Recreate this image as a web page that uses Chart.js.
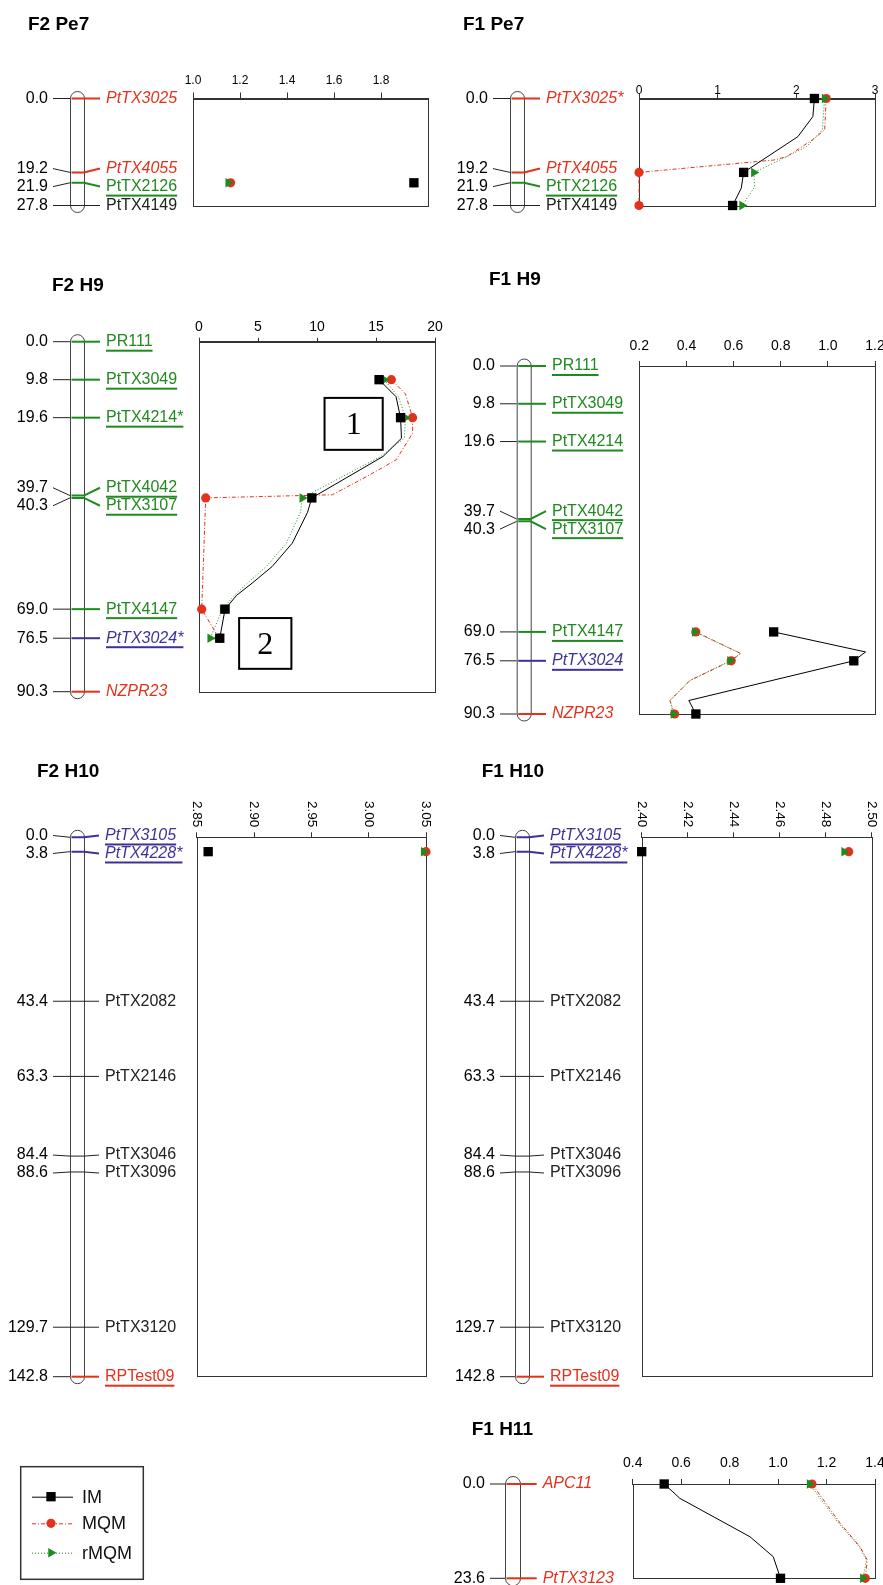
<!DOCTYPE html>
<html>
<head>
<meta charset="utf-8">
<script src="https://cdn.jsdelivr.net/npm/chart.js@4.4.1/dist/chart.umd.min.js"></script>
<style>
  body { margin: 0; background: #fff; }
  #page { position: relative; width: 883px; height: 1585px; overflow: hidden; }
  canvas { position: absolute; }
</style>
</head>
<body>
<div id="page"></div>
<script>
// ---------- linkage groups (cM positions, marker names, marker type) ----------
const cmPe7 = [0.0, 19.2, 21.9, 27.8];
const namesF2Pe7 = ['PtTX3025', 'PtTX4055', 'PtTX2126', 'PtTX4149'];
const namesF1Pe7 = ['PtTX3025*', 'PtTX4055', 'PtTX2126', 'PtTX4149'];
const kindPe7 = ['ri', 'ri', 'gu', 'k'];

const cmH9 = [0.0, 9.8, 19.6, 39.7, 40.3, 69.0, 76.5, 90.3];
const namesF2H9 = ['PR111', 'PtTX3049', 'PtTX4214*', 'PtTX4042', 'PtTX3107', 'PtTX4147', 'PtTX3024*', 'NZPR23'];
const namesF1H9 = ['PR111', 'PtTX3049', 'PtTX4214', 'PtTX4042', 'PtTX3107', 'PtTX4147', 'PtTX3024', 'NZPR23'];
const kindH9 = ['gu', 'gu', 'gu', 'gu', 'gu', 'gu', 'bu', 'ri'];

const cmH10 = [0.0, 3.8, 43.4, 63.3, 84.4, 88.6, 129.7, 142.8];
const namesH10 = ['PtTX3105', 'PtTX4228*', 'PtTX2082', 'PtTX2146', 'PtTX3046', 'PtTX3096', 'PtTX3120', 'RPTest09'];
const kindH10 = ['bu', 'bu', 'k', 'k', 'k', 'k', 'k', 'ru'];

const cmH11 = [0.0, 23.6];
const namesH11 = ['APC11', 'PtTX3123'];
const kindH11 = ['ri', 'ri'];

// ---------- LOD profiles, [cM, LOD] ----------
const imF2Pe7 = [[21.9, 1.94]];
const mqmF2Pe7 = [[21.9, 1.16]];
const rmqmF2Pe7 = [[21.9, 1.15]];

const imF1Pe7 = [[0, 2.23], [4.7, 2.21], [9.9, 2.02], [19.2, 1.33], [23.3, 1.30], [27.8, 1.19]];
const mqmF1Pe7 = [[0, 2.38], [8.2, 2.36], [10.8, 2.2], [15.1, 1.88], [16.0, 1.71], [19.2, 0], [27.8, 0]];
const rmqmF1Pe7 = [[0, 2.36], [8.2, 2.33], [12.5, 2.13], [16.8, 1.71], [19.2, 1.46], [23.0, 1.47], [27.8, 1.31]];

const imF2H9 = [[9.8, 15.26], [14.2, 16.7], [19.6, 17.08], [24.9, 17.16], [29.6, 15.6], [40.3, 9.56],
  [44.0, 9.2], [52.0, 7.9], [58.0, 6.2], [62.3, 4.5], [65.4, 3.2], [69.0, 2.21], [76.5, 1.76]];
const mqmF2H9 = [[9.8, 16.3], [13.5, 17.5], [19.6, 18.1], [23.6, 18.1], [30.5, 16.7], [34.8, 14.2],
  [39.5, 11.3], [40.3, 0.57], [69.0, 0.23], [76.5, 1.7]];
const rmqmF2H9 = [[9.8, 15.7], [14.2, 16.9], [19.6, 17.5], [24.9, 17.4], [29.6, 15.4], [40.3, 8.75],
  [44.0, 8.6], [52.0, 7.4], [58.0, 5.7], [62.3, 4.1], [65.4, 3.0], [69.0, 2.0], [76.5, 0.95]];

const imF1H9 = [[69.0, 0.77], [74.2, 1.16], [76.5, 1.11], [86.8, 0.41], [90.3, 0.44]];
const mqmF1H9 = [[69.0, 0.44], [74.6, 0.63], [76.5, 0.59], [81.6, 0.415], [86.8, 0.33], [90.3, 0.35]];
const rmqmF1H9 = [[69.0, 0.435], [74.6, 0.63], [76.5, 0.585], [81.6, 0.415], [86.8, 0.33], [90.3, 0.345]];

const imF2H10 = [[3.8, 2.86]];
const mqmF2H10 = [[3.8, 3.05]];
const rmqmF2H10 = [[3.8, 3.048]];

const imF1H10 = [[3.8, 2.40]];
const mqmF1H10 = [[3.8, 2.49]];
const rmqmF1H10 = [[3.8, 2.488]];

const imF1H11 = [[0, 0.53], [3.6, 0.595], [13.2, 0.884], [18.2, 0.98], [23.6, 1.01]];
const mqmF1H11 = [[0, 1.14], [9.8, 1.256], [15.7, 1.338], [19.0, 1.368], [23.6, 1.36]];
const rmqmF1H11 = [[0, 1.13], [9.8, 1.25], [15.7, 1.335], [19.0, 1.365], [23.6, 1.35]];

// ---------- LOD axis ticks ----------
const ticksF2Pe7 = [1.0, 1.2, 1.4, 1.6, 1.8];
const ticksF1Pe7 = [0, 1, 2, 3];
const ticksF2H9 = [0, 5, 10, 15, 20];
const ticksF1H9 = [0.2, 0.4, 0.6, 0.8, 1.0, 1.2];
const ticksF2H10 = [2.85, 2.90, 2.95, 3.00, 3.05];
const ticksF1H10 = [2.40, 2.42, 2.44, 2.46, 2.48, 2.50];
const ticksF1H11 = [0.4, 0.6, 0.8, 1.0, 1.2, 1.4];

// ---------- styles ----------
const FONT = '"Liberation Sans", Arial, Helvetica, sans-serif';
const RED = '#e3311c';
const GREEN = '#1f8a1f';
const BLUE = '#3b329b';
const INK = '#222';
Chart.defaults.font.family = FONT;

const KIND = {
  ri: { color: RED, italic: true, underline: false },
  ru: { color: RED, italic: false, underline: true },
  gu: { color: GREEN, italic: false, underline: true },
  bu: { color: BLUE, italic: true, underline: true },
  k:  { color: INK, italic: false, underline: false, thin: true }
};

const SERIES = [
  { key: 'im', label: 'IM', color: '#000', dash: [], shape: 'rect', r: 6.6, rot: 0, order: 0 },
  { key: 'mqm', label: 'MQM', color: RED, dash: [4, 2, 1, 2], shape: 'circle', r: 4.6, rot: 0, order: 2 },
  { key: 'rmqm', label: 'rMQM', color: GREEN, dash: [1, 2], shape: 'triangle', r: 5.5, rot: 90, order: 1 }
];

const panels = [
  { title: 'F2 Pe7', left: 0, top: 0, w: 460, h: 225, area: [193, 98.5, 428, 205.5], titleXY: [28, 29.5],
    map: { cmRight: 48, chromL: 70, chromW: 14, labelX: 106 },
    cm: cmPe7, names: namesF2Pe7, kinds: kindPe7, xMin: 1.0, xMax: 2.0, ticks: ticksF2Pe7, dec: 1,
    tickFont: 12, tl: 6, pad: 5, im: imF2Pe7, mqm: mqmF2Pe7, rmqm: rmqmF2Pe7 },
  { title: 'F1 Pe7', left: 440, top: 0, w: 443, h: 225, area: [199, 98.5, 435, 205.5], titleXY: [23, 29.5],
    map: { cmRight: 48, chromL: 70, chromW: 14, labelX: 106 },
    cm: cmPe7, names: namesF1Pe7, kinds: kindPe7, xMin: 0, xMax: 3, ticks: ticksF1Pe7, dec: 0,
    tickFont: 12, tl: 5, pad: -4, im: imF1Pe7, mqm: mqmF1Pe7, rmqm: rmqmF1Pe7 },
  { title: 'F2 H9', left: 0, top: 260, w: 460, h: 445, area: [199, 81.7, 435, 431.7], titleXY: [52, 30.7],
    map: { cmRight: 48, chromL: 70, chromW: 14, labelX: 106 },
    cm: cmH9, names: namesF2H9, kinds: kindH9, xMin: 0, xMax: 20, ticks: ticksF2H9, dec: 0,
    tickFont: 14, tl: 4, pad: 2.5, im: imF2H9, mqm: mqmF2H9, rmqm: rmqmF2H9,
    notes: [{ x0: 10.64, x1: 15.57, y0: 14.5, y1: 27.9, text: '1' }, { x0: 3.4, x1: 7.83, y0: 71.3, y1: 84.4, text: '2' }] },
  { title: 'F1 H9', left: 440, top: 260, w: 443, h: 465, area: [199.3, 106, 435, 454], titleXY: [49, 25],
    map: { cmRight: 55, chromL: 76.7, chromW: 14, labelX: 112 },
    cm: cmH9, names: namesF1H9, kinds: kindH9, xMin: 0.2, xMax: 1.2, ticks: ticksF1H9, dec: 1,
    tickFont: 14, tl: 5, pad: 6.5, im: imF1H9, mqm: mqmF1H9, rmqm: rmqmF1H9 },
  { title: 'F2 H10', left: 0, top: 750, w: 460, h: 640, area: [196.7, 87.3, 426, 626.7], titleXY: [37, 27.3],
    map: { cmRight: 48, chromL: 70, chromW: 14, labelX: 105 },
    cm: cmH10, names: namesH10, kinds: kindH10, xMin: 2.85, xMax: 3.05, ticks: ticksF2H10, dec: 2,
    tickFont: 13.5, tl: 5, pad: 0, rotTicks: true, im: imF2H10, mqm: mqmF2H10, rmqm: rmqmF2H10 },
  { title: 'F1 H10', left: 440, top: 750, w: 443, h: 640, area: [201.7, 87.3, 431.7, 626.7], titleXY: [41.7, 27.3],
    map: { cmRight: 55, chromL: 75, chromW: 14, labelX: 110 },
    cm: cmH10, names: namesH10, kinds: kindH10, xMin: 2.40, xMax: 2.50, ticks: ticksF1H10, dec: 2,
    tickFont: 13.5, tl: 5, pad: 0, rotTicks: true, im: imF1H10, mqm: mqmF1H10, rmqm: rmqmF1H10 },
  { title: 'F1 H11', left: 440, top: 1390, w: 443, h: 195, area: [192.7, 94, 435, 188.3], titleXY: [31.7, 45],
    map: { cmRight: 45, chromL: 65, chromW: 15, labelX: 102.7 },
    cm: cmH11, names: namesH11, kinds: kindH11, xMin: 0.4, xMax: 1.4, ticks: ticksF1H11, dec: 1,
    tickFont: 14, tl: 5, pad: 7.5, im: imF1H11, mqm: mqmF1H11, rmqm: rmqmF1H11 }
];

const page = document.getElementById('page');

// push map labels apart so they keep a minimum gap
function spread(ys, gap) {
  let groups = ys.map(v => ({ ys: [v], c: v }));
  let merged = true;
  while (merged) {
    merged = false;
    for (let i = 0; i < groups.length - 1; i++) {
      const a = groups[i], b = groups[i + 1];
      const aEnd = a.c + (a.ys.length - 1) * gap / 2;
      const bStart = b.c - (b.ys.length - 1) * gap / 2;
      if (bStart - aEnd < gap) {
        const all = a.ys.concat(b.ys);
        groups.splice(i, 2, { ys: all, c: all.reduce((s, v) => s + v, 0) / all.length });
        merged = true;
        break;
      }
    }
  }
  const out = [];
  groups.forEach(g => g.ys.forEach((v, k) => out.push(g.c + (k - (g.ys.length - 1) / 2) * gap)));
  return out;
}

function drawMap(ctx, chart, p) {
  const y = chart.scales.y;
  const m = p.map;
  const pys = p.cm.map(c => y.getPixelForValue(c));
  const lys = spread(pys, 18);

  // chromosome outline
  const x0 = m.chromL + 0.5, r = m.chromW / 2, x1 = x0 + m.chromW;
  ctx.save();
  ctx.strokeStyle = '#444';
  ctx.lineWidth = 1;
  ctx.beginPath();
  ctx.moveTo(x0, pys[0]);
  ctx.arc(x0 + r, pys[0], r, Math.PI, 0);
  ctx.lineTo(x1, pys[pys.length - 1]);
  ctx.arc(x0 + r, pys[pys.length - 1], r, 0, Math.PI);
  ctx.closePath();
  ctx.stroke();

  p.cm.forEach((c, i) => {
    const k = KIND[p.kinds[i]];
    const py = pys[i], ly = lys[i];
    ctx.strokeStyle = INK;
    ctx.lineWidth = 1;
    ctx.beginPath();
    ctx.moveTo(m.cmRight + 5, ly);
    ctx.lineTo(m.chromL, py);
    ctx.stroke();

    ctx.strokeStyle = k.color;
    ctx.lineWidth = k.thin ? 1 : 2;
    ctx.beginPath();
    ctx.moveTo(m.chromL + (k.thin ? 0 : 1.5), py);
    ctx.lineTo(m.chromL + m.chromW, py);
    ctx.lineTo(m.labelX - 6, ly);
    ctx.stroke();

    ctx.textBaseline = 'middle';
    ctx.fillStyle = '#000';
    ctx.font = '16px ' + FONT;
    ctx.textAlign = 'right';
    ctx.fillText(c.toFixed(1), m.cmRight, ly);

    ctx.textAlign = 'left';
    ctx.fillStyle = k.color;
    ctx.font = (k.italic ? 'italic ' : '') + '16px ' + FONT;
    ctx.fillText(p.names[i], m.labelX, ly);
    if (k.underline) {
      const w = ctx.measureText(p.names[i]).width;
      ctx.fillRect(m.labelX, ly + 8, w, 2);
    }
  });
  ctx.restore();
}

function makePanelPlugin(p) {
  return {
    id: 'panel',
    beforeDatasetsDraw(chart) {
      const a = chart.chartArea, ctx = chart.ctx;
      ctx.save();
      ctx.strokeStyle = '#333';
      ctx.lineWidth = 1;
      ctx.strokeRect(Math.round(a.left) + 0.5, Math.round(a.top) + 0.5,
        Math.round(a.right - a.left), Math.round(a.bottom - a.top));
      ctx.restore();
    },
    afterDraw(chart) {
      const ctx = chart.ctx, xs = chart.scales.x, ys = chart.scales.y;
      ctx.save();
      ctx.fillStyle = '#000';
      ctx.font = 'bold 19px ' + FONT;
      ctx.textAlign = 'left';
      ctx.textBaseline = 'alphabetic';
      ctx.fillText(p.title, p.titleXY[0], p.titleXY[1]);

      if (p.rotTicks) {
        ctx.font = p.tickFont + 'px ' + FONT;
        ctx.textAlign = 'right';
        ctx.textBaseline = 'middle';
        p.ticks.forEach(v => {
          ctx.save();
          ctx.translate(xs.getPixelForValue(v), chart.chartArea.top - 10);
          ctx.rotate(Math.PI / 2);
          ctx.fillText(v.toFixed(p.dec), 0, 0);
          ctx.restore();
        });
      }

      (p.notes || []).forEach(n => {
        const l = xs.getPixelForValue(n.x0), rr = xs.getPixelForValue(n.x1);
        const t = ys.getPixelForValue(n.y0), b = ys.getPixelForValue(n.y1);
        ctx.strokeStyle = '#000';
        ctx.lineWidth = 2;
        ctx.strokeRect(l, t, rr - l, b - t);
        ctx.font = '32px "Liberation Serif", "Times New Roman", serif';
        ctx.textAlign = 'center';
        ctx.textBaseline = 'middle';
        ctx.fillText(n.text, (l + rr) / 2, (t + b) / 2 + 2);
      });
      ctx.restore();
      drawMap(ctx, chart, p);
    }
  };
}

function makePanel(p) {
  const cv = document.createElement('canvas');
  cv.width = p.w;
  cv.height = p.h;
  cv.style.left = p.left + 'px';
  cv.style.top = p.top + 'px';
  page.appendChild(cv);
  const [aL, aT, aR, aB] = p.area;
  const AXIS_H = 40;
  const cmMax = p.cm[p.cm.length - 1];

  const datasets = SERIES.map(s => ({
    label: s.label,
    data: p[s.key].map(([c, v]) => ({ x: v, y: c })),
    showLine: true,
    borderColor: s.color,
    borderWidth: 1,
    borderDash: s.dash,
    tension: 0,
    pointStyle: s.shape,
    pointRotation: s.rot,
    pointBackgroundColor: s.color,
    pointBorderWidth: 0,
    pointRadius: ctx => (ctx.raw && p.cm.includes(ctx.raw.y)) ? s.r : 0,
    order: s.order,
    clip: false
  }));

  new Chart(cv, {
    type: 'scatter',
    data: { datasets },
    options: {
      responsive: false,
      animation: false,
      events: [],
      layout: { padding: { left: aL, top: aT - AXIS_H, right: p.w - aR, bottom: p.h - aB } },
      plugins: { legend: { display: false }, tooltip: { enabled: false }, title: { display: false } },
      scales: {
        x: {
          type: 'linear',
          position: 'top',
          min: p.xMin,
          max: p.xMax,
          afterBuildTicks: s => { s.ticks = p.ticks.map(v => ({ value: v })); },
          afterFit: s => { s.height = AXIS_H; s.paddingLeft = 0; s.paddingRight = 0; },
          grid: { drawOnChartArea: false, drawTicks: true, tickLength: p.tl, color: '#333', lineWidth: 1 },
          border: { display: true, color: '#333', width: 1 },
          ticks: {
            display: !p.rotTicks,
            padding: p.pad,
            color: '#000',
            font: { family: FONT, size: p.tickFont },
            maxRotation: 0,
            minRotation: 0,
            autoSkip: false,
            callback: v => Number(v).toFixed(p.dec)
          }
        },
        y: { type: 'linear', display: false, reverse: true, min: 0, max: cmMax }
      }
    },
    plugins: [makePanelPlugin(p)]
  });
}

panels.forEach(makePanel);

// ---------- legend ----------
function drawSymbol(ctx, shape, x, y, r, color) {
  ctx.fillStyle = color;
  ctx.beginPath();
  if (shape === 'rect') {
    const s = r * Math.SQRT1_2;
    ctx.rect(x - s, y - s, 2 * s, 2 * s);
  } else if (shape === 'circle') {
    ctx.arc(x, y, r, 0, 2 * Math.PI);
  } else {
    ctx.moveTo(x + r, y);
    ctx.lineTo(x - 0.5 * r, y + 0.866 * r);
    ctx.lineTo(x - 0.5 * r, y - 0.866 * r);
    ctx.closePath();
  }
  ctx.fill();
}

(function makeLegend() {
  const cv = document.createElement('canvas');
  cv.width = 200;
  cv.height = 145;
  cv.style.left = '0px';
  cv.style.top = '1440px';
  page.appendChild(cv);
  const rowsY = [56.7, 83.3, 112.7];
  new Chart(cv, {
    type: 'scatter',
    data: { datasets: SERIES.map(s => ({ label: s.label, data: [], borderColor: s.color, pointStyle: s.shape })) },
    options: {
      responsive: false,
      animation: false,
      events: [],
      plugins: { legend: { display: false }, tooltip: { enabled: false } },
      scales: { x: { display: false }, y: { display: false } }
    },
    plugins: [{
      id: 'boxLegend',
      afterDraw(chart) {
        const ctx = chart.ctx;
        ctx.save();
        ctx.strokeStyle = '#333';
        ctx.lineWidth = 1.5;
        ctx.strokeRect(20.7, 26.7, 122.6, 112.6);
        SERIES.forEach((s, i) => {
          const y = rowsY[i];
          ctx.strokeStyle = s.color;
          ctx.lineWidth = 1;
          ctx.setLineDash(s.dash);
          ctx.beginPath();
          ctx.moveTo(32, y + 0.5);
          ctx.lineTo(73, y + 0.5);
          ctx.stroke();
          ctx.setLineDash([]);
          drawSymbol(ctx, s.shape, 51, y, s.r, s.color);
          ctx.fillStyle = '#111';
          ctx.font = '18px ' + FONT;
          ctx.textAlign = 'left';
          ctx.textBaseline = 'middle';
          ctx.fillText(chart.data.datasets[i].label, 82, y + 1);
        });
        ctx.restore();
      }
    }]
  });
})();
</script>
</body>
</html>
